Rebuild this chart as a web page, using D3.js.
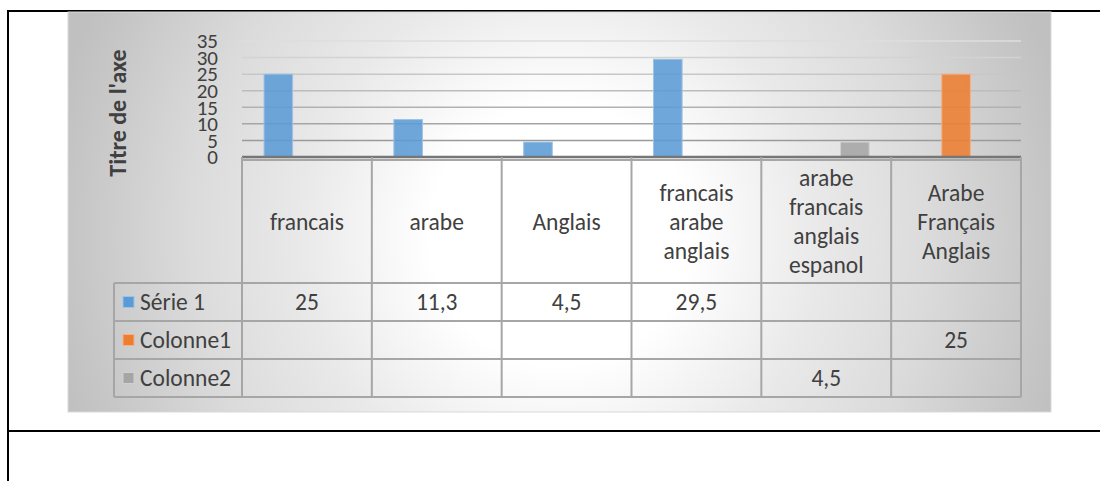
<!DOCTYPE html>
<html>
<head>
<meta charset="utf-8">
<script src="https://cdn.jsdelivr.net/npm/d3@7"></script>
<style>
  body { margin: 0; background: #fff; }
  svg text { font-family: Calibri, Carlito, Lato, sans-serif; fill: #404040; }
</style>
</head>
<body>
<div id="chart"></div>
<script>
// categories (each line of a header cell)
const categories = [
    "francais",
    "arabe",
    "Anglais",
    "francais\narabe\nanglais",
    "arabe\nfrancais\nanglais\nespanol",
    "Arabe\nFrançais\nAnglais"
];
const seriesNames = ["Série 1", "Colonne1", "Colonne2"];
const serie1Values = [25, 11.3, 4.5, 29.5, null, null];
const colonne1Values = [null, null, null, null, null, 25];
const colonne2Values = [null, null, null, null, 4.5, null];
const yTickValues = [0, 5, 10, 15, 20, 25, 30, 35];
const yTitle = "Titre de l'axe";

const seriesColors = {"Série 1": "#5b9bd5", "Colonne1": "#ed7d31", "Colonne2": "#a5a5a5"};
const seriesStroke = {"Série 1": "#9dc3e6", "Colonne1": "#f4b183", "Colonne2": "#d0d0d0"};

const WIDTH = 1100, HEIGHT = 481;
const PLOT = {left: 242, right: 1021, top: 41, bottom: 157};
const TABLE = {headerTop: 160, headerBottom: 283, rowH: 38, legendLeft: 114};
const TABLE_FONT = 23.5;

// french decimal comma
const fr = d3.formatLocale({decimal: ",", thousands: " ", grouping: [3], currency: ["", " €"]});
const fmt = v => fr.format(",")(v);

const series = seriesNames.map((name, i) => ({
    name: name,
    values: [serie1Values, colonne1Values, colonne2Values][i]
}));

const svg = d3.select('#chart').append('svg')
    .attr('width', WIDTH)
    .attr('height', HEIGHT);

// background gradient of the chart area
let defs = svg.append('defs');
let grad = defs.append('radialGradient')
    .attr('id', 'bg-grad')
    .attr('gradientUnits', 'userSpaceOnUse')
    .attr('cx', 560).attr('cy', 235).attr('r', 520);
[[0, '#ffffff'], [0.25, '#ffffff'], [0.5, '#e9e9e9'], [0.71, '#dbdbdb'], [0.94, '#c5c5c5'], [1, '#c0c0c0']]
    .forEach(s => grad.append('stop').attr('offset', s[0]).attr('stop-color', s[1]));

// document frame lines
svg.append('line').attr('x1', 7).attr('x2', WIDTH).attr('y1', 11).attr('y2', 11)
    .attr('stroke', '#000').attr('stroke-width', 2);
svg.append('line').attr('x1', 8).attr('x2', 8).attr('y1', 10).attr('y2', HEIGHT)
    .attr('stroke', '#000').attr('stroke-width', 2);
svg.append('line').attr('x1', 7).attr('x2', WIDTH).attr('y1', 431).attr('y2', 431)
    .attr('stroke', '#000').attr('stroke-width', 2);

// chart area
svg.append('rect')
    .attr('x', 68).attr('y', 12)
    .attr('width', 983).attr('height', 400)
    .attr('fill', 'url(#bg-grad)')
    .attr('stroke', '#d9d9d9').attr('stroke-width', 1);

// scales
let x0 = d3.scaleBand().domain(categories).range([PLOT.left, PLOT.right]).padding(0);
let x1 = d3.scaleBand().domain(seriesNames).range([0, x0.bandwidth()]).paddingInner(0).paddingOuter(0.77);
let y = d3.scaleLinear().domain([0, 35]).range([PLOT.bottom, PLOT.top]);

// gridlines, lighter towards the top
let gridColor = d3.scaleLinear().domain([35, 5]).range(['#dedede', '#9a9a9a']);
svg.append('g').attr('id', 'grid')
    .selectAll('line')
    .data(yTickValues.filter(d => d > 0))
    .enter()
    .append('line')
    .attr('x1', PLOT.left).attr('x2', PLOT.right)
    .attr('y1', d => y(d)).attr('y2', d => y(d))
    .attr('stroke', d => gridColor(d))
    .attr('stroke-width', 1.5);

// y axis labels (tightly stacked, as in the original)
let yAxis = svg.append('g')
    .attr('transform', `translate(218, 0)`)
    .call(d3.axisLeft(y).tickValues(yTickValues).tickSize(0).tickPadding(0));
yAxis.select('.domain').remove();
yAxis.selectAll('text')
    .attr('font-size', 21)
    .attr('fill', '#404040')
    .style('font-family', 'Calibri, Carlito, Lato, sans-serif');

// axis title
svg.append('text')
    .attr('transform', `translate(117, 113) rotate(-90)`)
    .attr('text-anchor', 'middle')
    .attr('dominant-baseline', 'central')
    .attr('font-size', 24)
    .attr('font-weight', 'bold')
    .attr('fill', '#595959')
    .text(yTitle);

// bars
let barData = [];
series.forEach(s => s.values.forEach((v, i) => {
    if (v !== null) barData.push({series: s.name, cat: categories[i], value: v});
}));
svg.append('g').attr('id', 'bars')
    .selectAll('rect')
    .data(barData)
    .enter()
    .append('rect')
    .attr('x', d => x0(d.cat) + x1(d.series))
    .attr('y', d => y(d.value))
    .attr('width', x1.bandwidth())
    .attr('height', d => y(0) - y(d.value))
    .attr('fill', d => seriesColors[d.series])
    .attr('fill-opacity', 0.88)
    .attr('stroke', d => seriesStroke[d.series])
    .attr('stroke-width', 1);

// category axis line
svg.append('line')
    .attr('x1', PLOT.left).attr('x2', PLOT.right)
    .attr('y1', y(0)).attr('y2', y(0))
    .attr('stroke', '#767676').attr('stroke-width', 2.5);

// data table
let tableG = svg.append('g').attr('id', 'data-table');
let lineColor = '#a6a6a6';
let rowsBottom = TABLE.headerBottom + TABLE.rowH * series.length;

// horizontal lines
tableG.append('line').attr('x1', PLOT.left).attr('x2', PLOT.right)
    .attr('y1', TABLE.headerTop).attr('y2', TABLE.headerTop);
d3.range(series.length + 1).forEach(i => {
    tableG.append('line')
        .attr('x1', TABLE.legendLeft).attr('x2', PLOT.right)
        .attr('y1', TABLE.headerBottom + i * TABLE.rowH)
        .attr('y2', TABLE.headerBottom + i * TABLE.rowH);
});
// vertical lines
categories.concat([null]).forEach((c, i) => {
    let xx = c === null ? PLOT.right : x0(c);
    tableG.append('line').attr('x1', xx).attr('x2', xx)
        .attr('y1', y(0)).attr('y2', rowsBottom);
});
tableG.append('line').attr('x1', TABLE.legendLeft).attr('x2', TABLE.legendLeft)
    .attr('y1', TABLE.headerBottom).attr('y2', rowsBottom);
tableG.selectAll('line').attr('stroke', lineColor).attr('stroke-width', 2);

// header labels
let headerMid = (TABLE.headerTop + TABLE.headerBottom) / 2;
let lineH = 29;
categories.forEach(c => {
    let lines = c.split('\n');
    let t = tableG.append('text')
        .attr('text-anchor', 'middle')
        .attr('font-size', TABLE_FONT);
    lines.forEach((l, j) => {
        t.append('tspan')
            .attr('x', x0(c) + x0.bandwidth() / 2)
            .attr('y', headerMid + (j - (lines.length - 1) / 2) * lineH)
            .attr('dominant-baseline', 'central')
            .text(l);
    });
});

// legend keys and values
series.forEach((s, i) => {
    let rowMid = TABLE.headerBottom + i * TABLE.rowH + TABLE.rowH / 2;
    tableG.append('rect')
        .attr('x', 123).attr('y', rowMid - 5.5)
        .attr('width', 11).attr('height', 11)
        .attr('fill', seriesColors[s.name])
        .attr('stroke', seriesStroke[s.name]).attr('stroke-width', 1);
    tableG.append('text')
        .attr('x', 140).attr('y', rowMid)
        .attr('dominant-baseline', 'central')
        .attr('font-size', TABLE_FONT)
        .text(s.name);
    s.values.forEach((v, k) => {
        if (v === null) return;
        tableG.append('text')
            .attr('x', x0(categories[k]) + x0.bandwidth() / 2)
            .attr('y', rowMid)
            .attr('text-anchor', 'middle')
            .attr('dominant-baseline', 'central')
            .attr('font-size', TABLE_FONT)
            .text(fmt(v));
    });
});
</script>
</body>
</html>
